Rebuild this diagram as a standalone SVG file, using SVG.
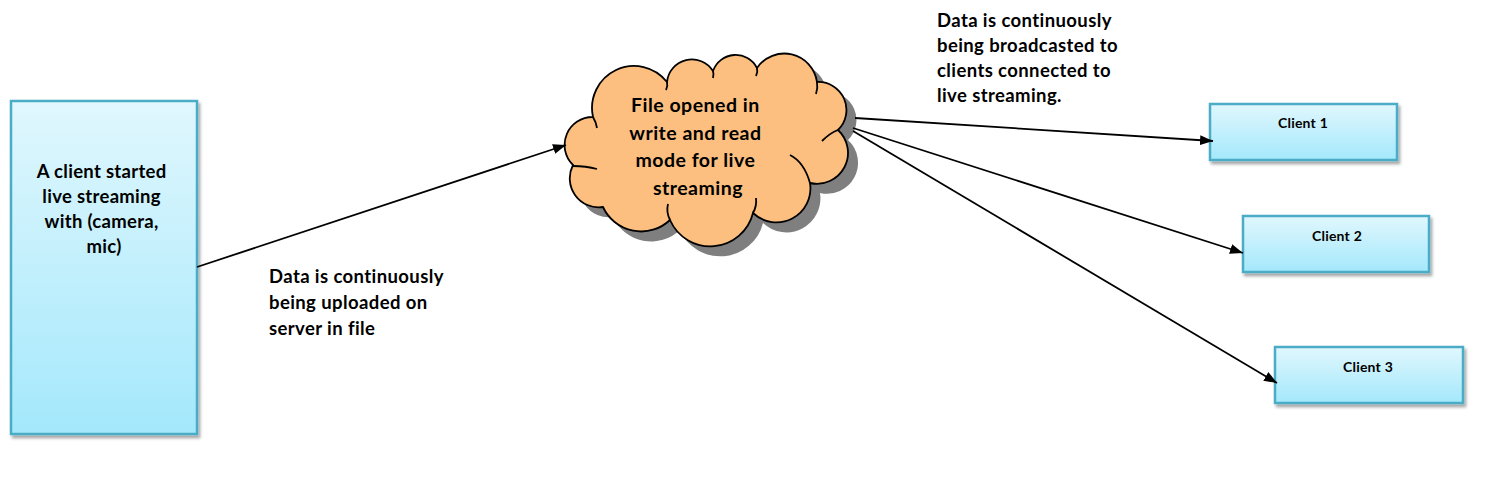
<svg xmlns="http://www.w3.org/2000/svg" width="1504" height="498" viewBox="0 0 1504 498">
<defs>
<linearGradient id="boxGrad" x1="0" y1="0" x2="0" y2="1">
<stop offset="0" stop-color="#E0F7FD"/>
<stop offset="1" stop-color="#A4E8FC"/>
</linearGradient>
<filter id="soft" x="-10%" y="-10%" width="130%" height="130%">
<feDropShadow dx="2" dy="3" stdDeviation="1.5" flood-color="#000" flood-opacity="0.35"/>
</filter>
<marker id="arrow" markerUnits="userSpaceOnUse" markerWidth="14" markerHeight="11" refX="13" refY="5" orient="auto">
<path d="M0,0 L13,5 L0,10 z" fill="#000"/>
</marker>
<path id="cloudShape" d="M593,117 A42,42 0 0 1 667,82 A25,25 0 0 1 713,71 A24,24 0 0 1 757,68 A33,33 0 0 1 817,82 A28,28 0 0 1 838,130 A31,31 0 0 1 810,183 A34,34 0 0 1 753,213 A44,44 0 0 1 670,220 A42,42 0 0 1 603,207 A29,29 0 0 1 573,165 A28,28 0 0 1 593,117 Z"/>
</defs>
<style>
.box{fill:url(#boxGrad);stroke:#4BACC6;stroke-width:2.5;filter:url(#soft)}
.lbl{font-family:Lato,"Open Sans","Liberation Sans",sans-serif;font-weight:bold;fill:#000}
.conn{stroke:#000;stroke-width:1.8;fill:none;marker-end:url(#arrow)}
.inner{fill:none;stroke:#000;stroke-width:1.8}
</style>

<g id="source">
<rect class="box" x="11" y="101" width="186" height="333"/>
<text class="lbl" font-size="18.5" letter-spacing="0.3" text-anchor="middle">
<tspan x="104" y="178">A client started</tspan>
<tspan x="104" y="203">live streaming</tspan>
<tspan x="104" y="228">with (camera,</tspan>
<tspan x="104" y="253">mic)</tspan>
</text>
</g>

<g id="file">
<use href="#cloudShape" transform="translate(10,10)" fill="#7F7F7F"/>
<use href="#cloudShape" fill="#FCBF7F" stroke="#000" stroke-width="1.8"/>
<path class="inner" d="M593,117 Q596,122 597,128"/>
<path class="inner" d="M573,166 Q586,166 597,169"/>
<path class="inner" d="M670,220 Q666,212 668,204"/>
<path class="inner" d="M753,213 Q757,206 756,198"/>
<path class="inner" d="M810,183 Q804,162 790,155"/>
<path class="inner" d="M838,130 Q830,133 822,141"/>
<path class="inner" d="M817,82 Q818,88 816,94"/>
<path class="inner" d="M757,68 Q758,72 756,76"/>
<path class="inner" d="M713,71 Q714,74 713,78"/>
<path class="inner" d="M667,82 Q668,86 666,90"/>
<text class="lbl" font-size="19.5" letter-spacing="0.5" text-anchor="middle">
<tspan x="698" y="112">File opened  in</tspan>
<tspan x="698" y="140">write and read</tspan>
<tspan x="698" y="167">mode for live</tspan>
<tspan x="698" y="195">streaming</tspan>
</text>
</g>

<g id="client1">
<rect class="box" x="1210" y="104" width="187" height="56"/>
<text class="lbl" font-size="14" letter-spacing="0.2" text-anchor="middle" x="1303" y="128">Client 1</text>
</g>
<g id="client2">
<rect class="box" x="1243" y="216" width="186" height="56"/>
<text class="lbl" font-size="14" letter-spacing="0.2" text-anchor="middle" x="1337" y="241">Client 2</text>
</g>
<g id="client3">
<rect class="box" x="1275" y="347" width="188" height="56"/>
<text class="lbl" font-size="14" letter-spacing="0.2" text-anchor="middle" x="1368" y="372">Client 3</text>
</g>

<g id="connectors">
<line class="conn" x1="197" y1="267" x2="566" y2="145"/>
<line class="conn" x1="855" y1="118" x2="1213" y2="141"/>
<line class="conn" x1="853" y1="128" x2="1243" y2="253"/>
<line class="conn" x1="853" y1="131" x2="1277" y2="383"/>
</g>

<g id="labels">
<text class="lbl" font-size="18.5" letter-spacing="0.4">
<tspan x="269" y="283">Data is continuously</tspan>
<tspan x="269" y="309">being uploaded on</tspan>
<tspan x="269" y="335">server in file</tspan>
</text>
<text class="lbl" font-size="18.5" letter-spacing="0.4">
<tspan x="937" y="27">Data is continuously</tspan>
<tspan x="937" y="52">being broadcasted to</tspan>
<tspan x="937" y="77">clients connected  to</tspan>
<tspan x="937" y="102">live streaming.</tspan>
</text>
</g>
</svg>
